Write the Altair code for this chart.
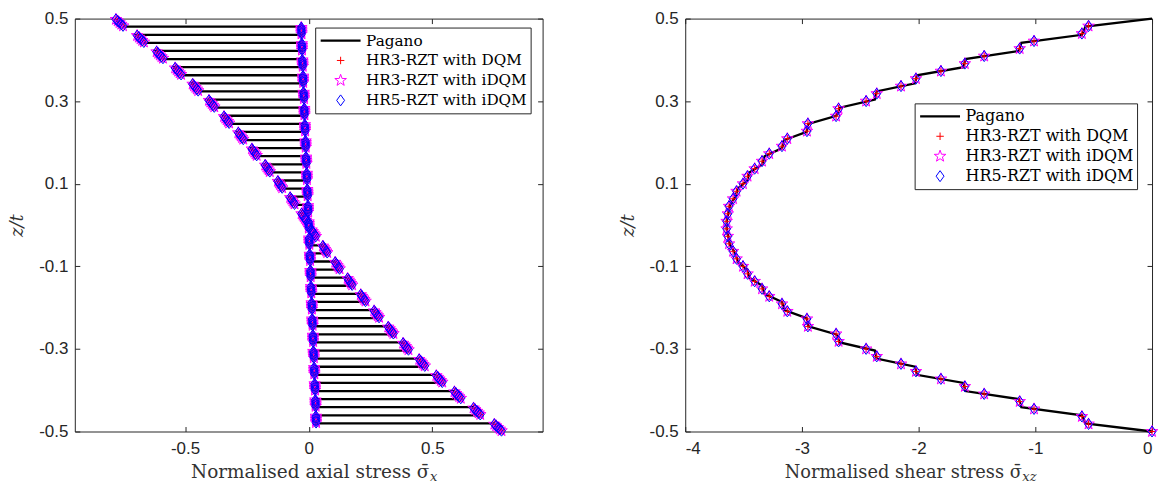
import math
import numpy as np
import pandas as pd
import altair as alt

# ---------------- data ----------------
SERIES = ["Pagano", "HR3-RZT with DQM", "HR3-RZT with iDQM", "HR5-RZT with iDQM"]

# left panel: 51 equal layers, stiff (even index) / soft (odd index)
n_layers = 51
stiff_top = [-0.783, -0.697, -0.618, -0.543, -0.472, -0.406, -0.345, -0.287, -0.232, -0.178, -0.127, -0.077, -0.031,
             0.009, 0.055, 0.105, 0.155, 0.208, 0.262, 0.319, 0.379, 0.444, 0.513, 0.586, 0.663, 0.747]
stiff_bot = [-0.747, -0.663, -0.586, -0.513, -0.444, -0.379, -0.319, -0.262, -0.208, -0.155, -0.105, -0.055, -0.009,
             0.031, 0.077, 0.127, 0.178, 0.232, 0.287, 0.345, 0.406, 0.472, 0.543, 0.618, 0.697, 0.783]
soft_top = [-0.030, -0.028, -0.026, -0.023, -0.021, -0.018, -0.016, -0.013, -0.011, -0.008, -0.006, -0.003, -0.001,
            0.002, 0.004, 0.007, 0.009, 0.012, 0.014, 0.017, 0.019, 0.022, 0.024, 0.027, 0.029]
soft_bot = [-0.029, -0.027, -0.024, -0.022, -0.019, -0.017, -0.014, -0.012, -0.009, -0.007, -0.004, -0.002, 0.001,
            0.003, 0.006, 0.008, 0.011, 0.013, 0.016, 0.018, 0.021, 0.023, 0.026, 0.028, 0.030]
marker_frac = [0.1, 0.3, 0.5, 0.7, 0.9]

# right panel: shear stress at the 52 layer interfaces
tau_interface = [0, -0.57, -0.60, -1.12, -1.14, -1.60, -1.615, -2.015, -2.03, -2.36, -2.375, -2.675, -2.705,
                 -2.945, -2.96, -3.15, -3.17, -3.32, -3.34, -3.45, -3.47, -3.55, -3.57, -3.615, -3.63, -3.645,
                 -3.645, -3.63, -3.615, -3.57, -3.55, -3.47, -3.45, -3.34, -3.32, -3.17, -3.15, -2.96, -2.945,
                 -2.705, -2.675, -2.375, -2.36, -2.03, -2.015, -1.615, -1.60, -1.14, -1.12, -0.60, -0.57, 0]
# numerical results at 55 stations z = 0.5 - j/55, j = 1..55
tau_markers = [-0.544, -0.601, -1.011, -1.134, -1.438, -1.604, -1.809, -2.023, -2.151, -2.359, -2.450, -2.686,
               -2.707, -2.949, -2.957, -3.125, -3.171, -3.280, -3.342, -3.405, -3.466, -3.505, -3.560, -3.590,
               -3.625, -3.635, -3.645,
               -3.645, -3.635, -3.625, -3.590, -3.560, -3.505, -3.466, -3.405, -3.342, -3.280, -3.171, -3.125,
               -2.957, -2.949, -2.707, -2.686, -2.450, -2.359, -2.151, -2.023, -1.809, -1.604, -1.438, -1.134,
               -1.011, -0.601, -0.544, 0.0]

x_ticks_left = [-0.5, 0, 0.5]
x_ticks_right = [-4, -3, -2, -1, 0]
y_ticks = [-0.5, -0.3, -0.1, 0.1, 0.3, 0.5]

# ---------------- tables ----------------
zi = np.linspace(0.5, -0.5, n_layers + 1)
line_rows, pt_rows = [], []
o = 0
layer_vals = []
for i in range(n_layers):
    if i % 2 == 0:
        a, b = stiff_top[i // 2], stiff_bot[i // 2]
    else:
        a, b = soft_top[i // 2], soft_bot[i // 2]
    layer_vals.append((zi[i], zi[i + 1], a, b))
    line_rows.append({"s": a, "z": zi[i], "o": o}); o += 1
    line_rows.append({"s": b, "z": zi[i + 1], "o": o}); o += 1
df_line_L = pd.DataFrame(line_rows)
for ser in SERIES[1:]:
    for (z0, z1, a, b) in layer_vals:
        for f in marker_frac:
            pt_rows.append({"s": a + f * (b - a), "z": z0 + f * (z1 - z0), "series": ser})
df_pts_L = pd.DataFrame(pt_rows)

df_line_R = pd.DataFrame({"s": tau_interface, "z": zi, "o": range(len(zi))})
zj = [0.5 - j / 55 for j in range(1, 56)]
rows = []
for ser in SERIES[1:]:
    for z, t in zip(zj, tau_markers):
        rows.append({"s": t, "z": z, "series": ser})
df_pts_R = pd.DataFrame(rows)

# ---------------- styles ----------------
star = []
for k in range(10):
    r = 1.0 if k % 2 == 0 else 0.40
    ang = math.radians(-90 + 36 * k)
    star.append(f"{r*math.cos(ang):.3f},{r*math.sin(ang):.3f}")
STAR = "M" + "L".join(star) + "Z"
PLUS = "M-1,0L1,0M0,-1L0,1"
DIAM = "M0,-1L0.72,0L0,1L-0.72,0Z"

SERIF = "DejaVu Serif"
SANS = "Liberation Sans"
AX = "#262626"
W_L, W_R, H = 469, 468, 414


def panel(df_line, df_pts, xdom, xticks, width, xtitle, title_end, tsize, sub, legx, legy, legfs):
    xs = alt.Scale(domain=xdom, nice=False, zero=False)
    ys = alt.Scale(domain=[-0.5, 0.5], nice=False, zero=False)
    common = dict(offset=-5, tickSize=5, domain=False, grid=False, tickColor=AX,
                  labelFont=SANS, labelFontSize=17, labelColor=AX, labelExpr="datum.value + ''")
    xaxis = alt.Axis(orient="bottom", values=xticks, labelPadding=9, title=xtitle,
                     titleFont=SERIF, titleFontSize=tsize, titleFontWeight="normal", titleColor="#333333",
                     titleAlign="right", titleAnchor="start", titleX=title_end, titleY=51,
                     titleBaseline="alphabetic", **common)
    yaxis = alt.Axis(orient="left", values=y_ticks, labelPadding=7, title="z/t",
                     titleFont=SERIF, titleFontSize=18, titleFontStyle="italic", titleFontWeight="normal",
                     titleColor="#333333", titlePadding=12, **common)
    leg = alt.Legend(title=None, orient="none", legendX=legx, legendY=legy, fillColor="white",
                     strokeColor=AX, padding=3, labelFont=SERIF, labelFontSize=legfs, labelColor="black",
                     clipHeight=20, rowPadding=0, labelOffset=4, symbolOffset=1, labelLimit=400)
    dom = SERIES
    line = alt.Chart(df_line).mark_line(color="black", strokeWidth=2.3).encode(
        x=alt.X("s:Q", scale=xs, axis=xaxis),
        y=alt.Y("z:Q", scale=ys, axis=yaxis),
        order="o:Q")
    pts = alt.Chart(df_pts).mark_point(filled=False, opacity=1).encode(
        x=alt.X("s:Q", scale=xs),
        y=alt.Y("z:Q", scale=ys),
        color=alt.Color("series:N", scale=alt.Scale(domain=dom, range=["#000000", "#FF0000", "#FF00FF", "#0000FF"]), legend=leg),
        shape=alt.Shape("series:N", scale=alt.Scale(domain=dom, range=["stroke", PLUS, STAR, DIAM]), legend=leg),
        size=alt.Size("series:N", scale=alt.Scale(type="ordinal", domain=dom, range=[1600, 56, 150, 121]), legend=leg),
        strokeWidth=alt.StrokeWidth("series:N", scale=alt.Scale(type="ordinal", domain=dom, range=[2.3, 1, 1, 1]), legend=leg))
    subtxt = alt.Chart(pd.DataFrame({"t": [sub]})).mark_text(
        align="left", baseline="alphabetic", font=SERIF, fontStyle="italic", fontSize=13, color="#333333"
    ).encode(text="t:N", x=alt.value(title_end + 1), y=alt.value(H + 50))
    main = alt.layer(line, pts, subtxt)
    frame = alt.Chart(df_line).mark_line(opacity=0).encode(
        x=alt.X("s:Q", scale=xs, axis=alt.Axis(orient="top", values=xticks, labels=False, title=None, offset=-5,
                                                tickSize=5, domain=False, grid=False, tickColor=AX)),
        y=alt.Y("z:Q", scale=ys, axis=alt.Axis(orient="right", values=y_ticks, labels=False, title=None, offset=-5,
                                                tickSize=5, domain=False, grid=False, tickColor=AX)),
        order="o:Q")
    return alt.layer(main, frame).resolve_scale(x="independent", y="independent").properties(width=width, height=H)


left = panel(df_line_L, df_pts_L, [-0.9456, 0.9456], x_ticks_left, W_L,
             "Normalised axial stress σ̄", 355, 18.5, "x", 241, 9, 15.3)
right = panel(df_line_R, df_pts_R, [-4, 0], x_ticks_right, W_R,
              "Normalised shear stress σ̄", 337, 17.8, "xz", 230, 85, 16)

chart = alt.hconcat(left, right, spacing=75).resolve_scale(
    color="independent", shape="independent", size="independent", strokeWidth="independent"
).resolve_legend(
    color="independent", shape="independent", size="independent", strokeWidth="independent"
).configure_view(stroke=AX, strokeWidth=1).properties(
    padding={"left": 8, "top": 8, "right": 0, "bottom": 0})

chart.save("out.html", embed_options={"renderer": "svg", "actions": False})
